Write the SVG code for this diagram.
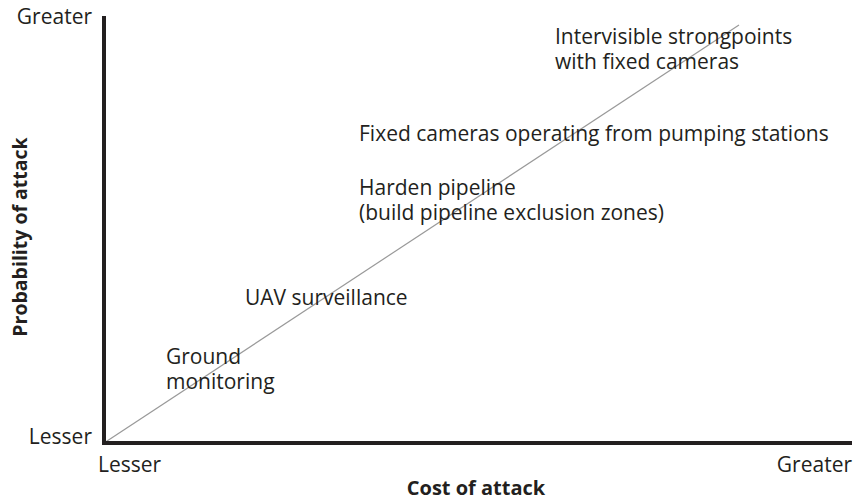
<svg xmlns="http://www.w3.org/2000/svg" width="855" height="501" viewBox="0 0 855 501">
<style>
text{font-family:"Open Sans","Noto Sans","DejaVu Sans",sans-serif;font-size:21px;fill:#231f20}
.b{font-weight:bold;font-size:20px}
.axis{stroke:#231f20;stroke-width:4;fill:none}
.diag{stroke:#999;stroke-width:1.2;fill:none}
</style>
<rect width="855" height="501" fill="#fff"/>
<g id="connectors">
<line class="diag" x1="104" y1="443" x2="739" y2="25"/>
<path class="axis" d="M104 16 V443 H852"/>
</g>
<g id="axis-labels">
<text x="92" y="24" text-anchor="end">Greater</text>
<text x="92" y="444" text-anchor="end">Lesser</text>
<text x="98" y="472">Lesser</text>
<text x="852" y="472" text-anchor="end">Greater</text>
<text class="b" x="476" y="495" text-anchor="middle">Cost of attack</text>
<text class="b" transform="translate(27 237) rotate(-90)" text-anchor="middle" style="font-size:19.5px">Probability of attack</text>
</g>
<g id="n1"><text x="555" y="44">Intervisible strongpoints</text><text x="555" y="69">with fixed cameras</text></g>
<g id="n2"><text x="359" y="141">Fixed cameras operating from pumping stations</text></g>
<g id="n3"><text x="359" y="195">Harden pipeline</text><text x="359" y="220">(build pipeline exclusion zones)</text></g>
<g id="n4"><text x="245" y="305">UAV surveillance</text></g>
<g id="n5"><text x="166" y="364">Ground</text><text x="166" y="389">monitoring</text></g>
</svg>
